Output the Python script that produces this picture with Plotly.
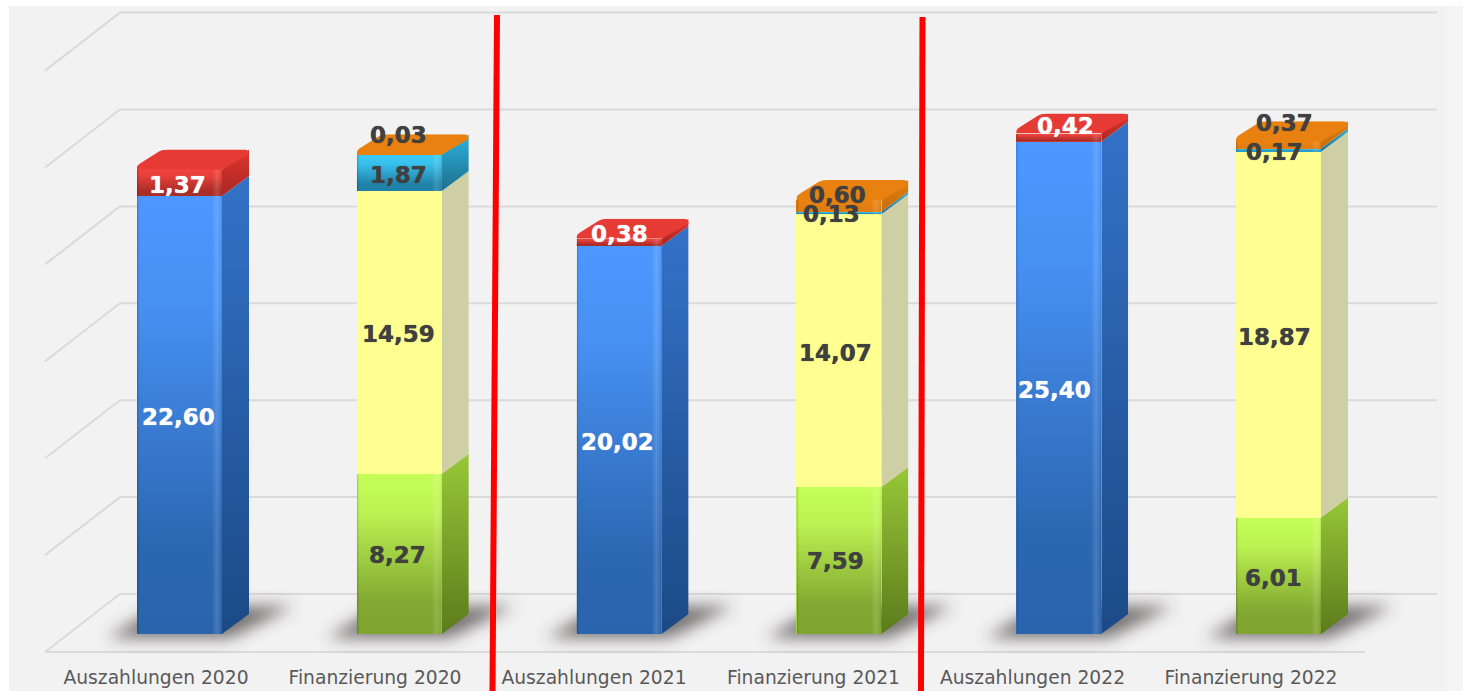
import base64
import plotly.graph_objects as go

# ---------- data ----------
categories = ["Auszahlungen 2020", "Finanzierung 2020", "Auszahlungen 2021",
              "Finanzierung 2021", "Auszahlungen 2022", "Finanzierung 2022"]
auszahlungen = [22.60, None, 20.02, None, 25.40, None]
sonstige_ausz = [1.37, None, 0.38, None, 0.42, None]
finanz_gruen = [None, 8.27, None, 7.59, None, 6.01]
finanz_gelb = [None, 14.59, None, 14.07, None, 18.87]
finanz_cyan = [None, 1.87, None, 0.13, None, 0.17]
finanz_orange = [None, 0.03, None, 0.60, None, 0.37]
grid_values = [0, 5, 10, 15, 20, 25, 30]

# ---------- style ----------
W, H = 1463, 691
K = 19.38            # pixels per unit of value
BASE_PX = 634        # pixel row of value 0 at bar front
AXIS_PX = 660
X0, STEP, BAR_W = 179.5, 219.8, 85
DX, DY = 27, 20 / K  # bar depth
WALL = 40 / K
WALL_X, WALL_X_END, FLOOR_X, FLOOR_X_END = 120, 1437, 45, 1365
FLOOR_DY = 58 / K
tick_positions = [156, 375, 594, 813.5, 1032.5, 1251]

# name, values, front top, front bottom, side top, side bottom, text colour
series = [
    ("Auszahlungen", auszahlungen, "#4c98ff", "#2a64ad", "#3472c8", "#1b4a86", "#ffffff"),
    ("Sonstige", sonstige_ausz, "#f0433c", "#a92c27", "#e0342e", "#a92721", "#ffffff"),
    ("Gruen", finanz_gruen, "#c6ff58", "#7fa42f", "#97c838", "#5c7b1b", "#404040"),
    ("Gelb", finanz_gelb, "#ffff91", "#ffff91", "#cfcfa5", "#cfcfa5", "#404040"),
    ("Cyan", finanz_cyan, "#3ccbf8", "#1f7fa6", "#2cb0dc", "#1f6f8c", "#404040"),
    ("Orange", finanz_orange, "#ea8210", "#e07c10", "#e07c10", "#c86e0c", "#404040"),
]
top_colors = {"Sonstige": "#e63a35", "Orange": "#e8810f"}

# label nudges in pixels (dx, dy), keyed by (series, category index)
nudges = {
    ("Sonstige", 0): (-2, 2), ("Sonstige", 2): (0, -8), ("Sonstige", 4): (7, -12),
    ("Orange", 1): (-1, -19), ("Orange", 3): (-1, -11), ("Orange", 5): (6, -22),
    ("Cyan", 1): (-1, 2), ("Cyan", 3): (-7, 1), ("Cyan", 5): (-4, 2),
    ("Gelb", 1): (-1, 2), ("Gelb", 3): (-3, 2), ("Gelb", 5): (-4, 2),
    ("Gruen", 1): (-2, 1), ("Gruen", 3): (-3, 1), ("Gruen", 5): (-5, 2),
    ("Auszahlungen", 0): (-1, 2), ("Auszahlungen", 2): (-2, 2), ("Auszahlungen", 4): (-4, 2),
}

centers = [X0 + STEP * i for i in range(len(categories))]


def uri(svg):
    return "data:image/svg+xml;base64," + base64.b64encode(svg.encode()).decode()


def grad(idn, stops, vertical=True):
    d = 'x1="0" y1="0" x2="0" y2="1"' if vertical else 'x1="0" y1="0" x2="1" y2="0"'
    s = "".join(f'<stop offset="{o}" stop-color="{c}" stop-opacity="{a}"/>' for o, c, a in stops)
    return f'<linearGradient id="{idn}" {d}>{s}</linearGradient>'


def img(svg, x, ytop, sx, sy, layer="above"):
    return dict(source=uri(svg), xref="x", yref="y", x=x, y=ytop, sizex=sx, sizey=sy,
                xanchor="left", yanchor="top", sizing="stretch", layer=layer, opacity=1)


def front_shade(bottom_col, edges):
    e = 1 if edges else 0
    return (
        '<svg xmlns="http://www.w3.org/2000/svg" viewBox="0 0 100 100" preserveAspectRatio="none"><defs>'
        + grad("v", [(0, bottom_col, 0), (0.25, bottom_col, 0.15), (0.8, bottom_col, 0.95), (1, bottom_col, 1)])
        + grad("h", [(0, "#000", 0.2 * e), (0.03, "#000", 0.0), (0.88, "#fff", 0.0),
                     (0.94, "#fff", 0.14 * e), (0.98, "#fff", 0.04 * e), (1, "#000", 0.1 * e)], vertical=False)
        + '</defs><rect width="100" height="100" fill="url(#v)"/>'
        '<rect width="100" height="100" fill="url(#h)"/></svg>'
    )


def side_svg(c_top, c_bot, w, h, d):
    return (
        f'<svg xmlns="http://www.w3.org/2000/svg" viewBox="0 0 {w} {h}" preserveAspectRatio="none"><defs>'
        + grad("s", [(0, c_top, 1), (1, c_bot, 1)])
        + f'</defs><polygon points="0,{d} {w},0 {w},{h-d} 0,{h}" fill="url(#s)"/></svg>'
    )


def top_svg(color):
    w, h, r = 112, 20, 5
    return (
        f'<svg xmlns="http://www.w3.org/2000/svg" viewBox="0 0 {w} {h}" preserveAspectRatio="none">'
        f'<path d="M0,20 L0,18 Q0,16 3,14 L22,2 Q25,0 {27+r},0 L{w-r},0 Q{w},0 {w},{r} L{w},{r} L85,20 Z" fill="{color}"/></svg>'
    )


fig = go.Figure()
images, annotations = [], []

# shadows on the floor
for c in centers:
    L = c - BAR_W / 2
    w, h = BAR_W + 190, 70
    ox = 60
    svg = (f'<svg xmlns="http://www.w3.org/2000/svg" viewBox="0 0 {w} {h}" preserveAspectRatio="none">'
           '<defs><filter id="b" x="-20%" y="-50%" width="140%" height="200%"><feGaussianBlur stdDeviation="8"/></filter></defs>'
           f'<polygon points="{ox-30},{h-22} {ox+BAR_W+8},{h-22} {ox+BAR_W+72},{h-54} {ox+24},{h-54}" '
           'fill="#454040" fill-opacity="0.72" filter="url(#b)"/></svg>')
    images.append(img(svg, L - ox, (BASE_PX - 590) / K, w, h / K, layer="below"))

# front faces
for name, vals, top_c, bot_c, stop, sbot, tc in series:
    fig.add_trace(go.Bar(x=centers, y=[v if v is not None else 0 for v in vals], width=BAR_W,
                         marker=dict(color=top_c, line=dict(width=0)), name=name,
                         showlegend=False, hoverinfo="skip"))

# sides, lids, shading, labels: derived from the stacked values
for i, c in enumerate(centers):
    R = c + BAR_W / 2
    L = c - BAR_W / 2
    bottom = 0.0
    last = None
    for name, vals, top_c, bot_c, stop, sbot, tc in series:
        v = vals[i]
        if v is None:
            continue
        top = bottom + v
        h_px = v * K + 20
        images.append(img(side_svg(stop, sbot, DX, h_px, 20), R, top + DY, DX, h_px / K))
        images.append(img(front_shade(bot_c, name != "Gelb"), L, top, BAR_W, v))
        dx, dy = nudges.get((name, i), (0, 0))
        annotations.append(dict(x=c, y=bottom + v / 2, xref="x", yref="y",
                                text="<b>" + f"{v:.2f}".replace(".", ",") + "</b>",
                                showarrow=False, xshift=dx, yshift=-dy, xanchor="center", yanchor="middle",
                                font=dict(family="DejaVu Sans", size=23, color=tc,
                                          shadow=f"0 0 0.8px {tc}")))
        bottom = top
        last = name
    images.append(img(top_svg(top_colors[last]), L, bottom + DY, BAR_W + DX, DY))

y_bottom = (BASE_PX - AXIS_PX) / K
y_top = BASE_PX / K


def py(p):
    """pixel row to paper fraction of the plot area"""
    return 1 - p / AXIS_PX


shapes = [
    dict(type="rect", xref="paper", yref="paper", x0=9 / W, x1=1447 / W, y0=py(H), y1=py(6),
         fillcolor="#f2f2f2", line=dict(width=0), layer="below"),
    dict(type="rect", xref="paper", yref="paper", x0=1447 / W, x1=1, y0=py(H), y1=py(6),
         fillcolor="#f5f5f5", line=dict(width=0), layer="below"),
]
grid_line = dict(color="#dadada", width=2)
for v in grid_values:
    shapes.append(dict(type="line", xref="x", yref="y", x0=FLOOR_X, x1=WALL_X,
                       y0=v + WALL - FLOOR_DY, y1=v + WALL, line=grid_line, layer="below"))
    shapes.append(dict(type="line", xref="x", yref="y", x0=WALL_X, x1=WALL_X_END,
                       y0=v + WALL, y1=v + WALL, line=grid_line, layer="below"))
shapes.append(dict(type="line", xref="x", yref="y", x0=FLOOR_X, x1=FLOOR_X_END,
                   y0=WALL - FLOOR_DY, y1=WALL - FLOOR_DY, line=grid_line, layer="below"))
shapes += [
    dict(type="line", xref="paper", yref="paper", x0=497 / W, x1=492.5 / W, y0=py(15), y1=py(H),
         line=dict(color="#ff0000", width=6), layer="above"),
    dict(type="line", xref="paper", yref="paper", x0=922.5 / W, x1=921 / W, y0=py(17), y1=py(H),
         line=dict(color="#ff0000", width=6), layer="above"),
]

fig.update_layout(
    width=W, height=H, autosize=False,
    margin=dict(l=0, r=0, t=0, b=H - AXIS_PX, pad=0),
    paper_bgcolor="#ffffff", plot_bgcolor="rgba(0,0,0,0)",
    barmode="stack", bargap=0, showlegend=False,
    xaxis=dict(range=[0, W], tickmode="array", tickvals=tick_positions, ticktext=categories,
               showgrid=False, zeroline=False, showline=False, ticks="outside", ticklen=1,
               tickcolor="rgba(0,0,0,0)", tickangle=0,
               tickfont=dict(family="DejaVu Sans", size=18.7, color="#595959")),
    yaxis=dict(range=[y_bottom, y_top], visible=False),
    images=images, annotations=annotations, shapes=shapes,
)

fig.write_html("out.html", config={"displayModeBar": False},
               post_script="document.body.style.margin='0';")
